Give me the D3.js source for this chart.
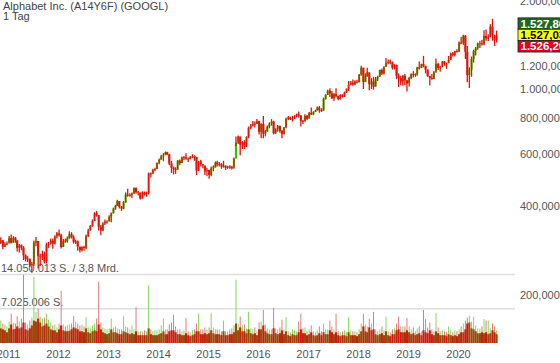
<!DOCTYPE html>
<html>
<head>
<meta charset="utf-8">
<script src="https://cdn.jsdelivr.net/npm/d3@7"></script>
<style>
  body { margin: 0; background: #fff; }
  svg { display: block; font-family: "Liberation Sans", Arial, sans-serif; }
</style>
</head>
<body>
<div id="chart"></div>
<script>
// half-month periods, starting Nov 2010 (a = 1st-15th, b = 16th-end)
const startMonth = new Date(2010, 10, 1);
const firstOpen = 300;

const closes = [
  306, 291, 296, 298,
  311, 300, 312, 306, 288, 294, 289, 272, 264, 265, 252, 254, 300, 304, 270, 270, 275, 259, 296, 298, 305, 298, 315, 323,
  318, 290, 305, 304, 310, 321, 313, 302, 303, 291, 283, 290, 288, 316, 330, 342, 356, 378, 372, 340, 330, 349, 354, 354,
  368, 378, 392, 401, 416, 397, 392, 412, 438, 436, 436, 441, 461, 445, 445, 424, 445, 438, 442, 516, 515, 530, 535, 561,
  575, 591, 595, 609, 600, 558, 540, 535, 530, 571, 560, 585, 586, 580, 577, 587, 590, 588, 528, 567, 555, 549, 525, 531,
  510, 537, 542, 562, 555, 555, 545, 548, 540, 545, 542, 540, 580, 657, 690, 647, 660, 638, 685, 737, 750, 762, 760, 778,
  715, 761, 705, 717, 745, 763, 775, 707, 730, 748, 720, 704, 740, 791, 800, 790, 790, 804, 820, 810, 780, 775, 810, 792,
  830, 820, 835, 845, 865, 848, 845, 925, 955, 988, 965, 930, 960, 945, 925, 955, 940, 974, 1000, 1033, 1050, 1036, 1060, 1053,
  1120, 1182, 1055, 1104, 1140, 1037, 1060, 1018, 1080, 1100, 1160, 1129, 1190, 1227, 1240, 1232, 1180, 1207, 1110, 1090, 1060, 1109, 1070, 1045,
  1090, 1126, 1115, 1126, 1185, 1177, 1215, 1198, 1165, 1106, 1090, 1083, 1145, 1218, 1180, 1190, 1240, 1221, 1220, 1258, 1320, 1304, 1345, 1339,
  1440, 1432, 1518, 1339, 1115, 1162, 1265, 1348, 1375, 1429, 1430, 1418, 1515, 1487, 1505, 1629, 1520, 1466, 1527
];
const highs = [
  313, 305, 301, 303,
  316, 320, 316, 314, 303, 297, 296, 292, 274, 270, 263, 258, 305, 314, 303, 275, 282, 280, 300, 302, 310, 310, 318, 326,
  333, 322, 309, 310, 315, 328, 326, 318, 307, 305, 290, 292, 293, 320, 335, 345, 360, 381, 385, 373, 345, 352, 360, 358,
  372, 380, 395, 404, 420, 410, 400, 416, 445, 458, 442, 445, 462, 462, 450, 440, 449, 448, 448, 520, 520, 535, 540, 562,
  580, 598, 605, 613, 612, 602, 570, 545, 542, 573, 576, 589, 592, 605, 585, 592, 600, 595, 585, 570, 575, 555, 548, 540,
  530, 545, 550, 567, 570, 565, 560, 570, 550, 548, 550, 548, 585, 690, 695, 680, 665, 670, 690, 745, 760, 778, 775, 790,
  780, 765, 810, 725, 752, 770, 790, 780, 735, 755, 752, 725, 742, 800, 810, 805, 810, 815, 825, 838, 815, 785, 820, 815,
  835, 865, 840, 850, 872, 875, 860, 935, 960, 995, 1005, 985, 970, 1006, 950, 960, 960, 980, 1005, 1065, 1065, 1078, 1070, 1075,
  1125, 1200, 1180, 1130, 1180, 1125, 1090, 1100, 1100, 1110, 1165, 1175, 1195, 1275, 1260, 1260, 1240, 1215, 1210, 1130, 1110, 1115, 1125, 1075,
  1100, 1130, 1150, 1130, 1190, 1240, 1220, 1296, 1200, 1165, 1110, 1125, 1150, 1270, 1225, 1200, 1245, 1245, 1230, 1295, 1330, 1335, 1350, 1365,
  1450, 1505, 1530, 1525, 1400, 1185, 1290, 1360, 1390, 1440, 1460, 1470, 1585, 1595, 1535, 1660, 1733, 1530, 1580
];
const lows = [
  297, 285, 290, 294,
  300, 298, 300, 300, 280, 278, 283, 262, 259, 258, 248, 237, 250, 292, 245, 250, 262, 255, 255, 288, 296, 286, 296, 310,
  315, 287, 290, 300, 300, 310, 310, 298, 297, 282, 278, 280, 282, 285, 314, 330, 340, 355, 368, 330, 318, 328, 345, 348,
  355, 352, 377, 388, 400, 392, 385, 390, 410, 430, 430, 426, 440, 440, 434, 421, 424, 434, 430, 438, 500, 515, 525, 533,
  555, 575, 568, 598, 595, 550, 518, 512, 515, 535, 550, 560, 572, 575, 565, 577, 582, 570, 510, 525, 545, 538, 510, 505,
  495, 505, 525, 540, 545, 545, 535, 540, 530, 535, 535, 532, 536, 640, 650, 595, 625, 625, 635, 680, 730, 745, 740, 760,
  700, 680, 680, 690, 715, 735, 750, 700, 705, 715, 710, 680, 700, 735, 785, 785, 775, 790, 800, 800, 745, 760, 775, 785,
  795, 815, 815, 835, 845, 830, 835, 845, 920, 955, 940, 925, 910, 935, 915, 920, 935, 940, 970, 985, 1030, 1025, 1030, 1045,
  1055, 1110, 1000, 1060, 1100, 990, 1000, 995, 1020, 1065, 1100, 1115, 1120, 1190, 1215, 1215, 1165, 1165, 1080, 1015, 1030, 1025, 1030, 980,
  1020, 1080, 1095, 1100, 1110, 1165, 1180, 1185, 1130, 1100, 1027, 1075, 1080, 1135, 1160, 1145, 1185, 1200, 1170, 1230, 1255, 1290, 1290, 1330,
  1340, 1420, 1415, 1265, 1055, 1008, 1100, 1230, 1300, 1360, 1380, 1405, 1410, 1460, 1455, 1500, 1460, 1400, 1440
];

// volume in million shares per half-month: typical day and busiest day
const volBase = [
  3.0, 2.8, 2.6, 2.2,
  3.0, 3.8, 2.8, 2.9, 3.4, 3.0, 3.2, 4.2, 2.8, 2.6, 3.0, 3.6, 4.6, 4.4, 5.0, 4.2, 3.4, 3.6, 4.0, 3.4, 2.8, 2.6, 2.6, 2.2,
  2.8, 3.6, 2.6, 2.4, 2.4, 2.5, 2.8, 3.2, 3.0, 2.8, 2.4, 2.4, 2.2, 3.0, 2.2, 2.0, 2.4, 2.6, 2.4, 3.8, 2.8, 2.2, 2.0, 1.8,
  2.0, 2.8, 2.2, 2.2, 2.0, 1.8, 1.8, 2.4, 2.2, 2.0, 1.8, 2.0, 1.8, 2.4, 1.6, 1.6, 1.6, 1.6, 1.6, 3.0, 1.8, 1.6, 1.6, 1.6,
  1.8, 2.0, 2.4, 1.8, 1.8, 2.4, 2.6, 2.6, 2.2, 1.8, 1.8, 1.6, 1.6, 2.0, 1.6, 1.4, 1.6, 1.8, 2.4, 2.4, 1.8, 1.8, 2.0, 1.8,
  2.0, 2.6, 2.0, 1.8, 1.8, 1.8, 1.6, 2.4, 1.6, 1.6, 1.8, 1.8, 2.2, 4.0, 2.6, 3.2, 2.4, 2.4, 2.0, 2.8, 2.0, 1.8, 2.0, 1.6,
  2.8, 2.8, 3.6, 2.4, 2.0, 1.8, 1.8, 3.0, 2.0, 1.8, 2.0, 2.6, 1.8, 2.4, 1.6, 1.4, 1.8, 1.6, 1.6, 2.2, 2.8, 2.0, 2.0, 1.6,
  1.8, 2.2, 1.6, 1.4, 1.6, 2.0, 1.6, 2.2, 1.8, 1.8, 2.6, 2.2, 1.8, 2.2, 1.6, 1.4, 1.6, 1.6, 1.4, 2.2, 1.6, 1.6, 1.6, 1.4,
  1.8, 2.4, 3.4, 2.4, 2.2, 3.2, 2.6, 2.8, 1.8, 1.6, 1.8, 2.0, 1.6, 2.4, 1.6, 1.4, 1.8, 1.8, 2.6, 2.8, 2.2, 2.2, 2.2, 2.6,
  2.2, 1.8, 2.0, 1.6, 1.8, 2.0, 1.6, 2.6, 2.2, 2.0, 2.6, 1.8, 1.6, 2.4, 2.0, 1.6, 1.6, 1.6, 1.4, 1.8, 1.6, 1.4, 1.6, 1.4,
  1.8, 2.2, 2.2, 2.8, 4.0, 4.2, 3.0, 2.8, 2.4, 2.0, 2.0, 2.2, 2.0, 2.2, 1.8, 2.0, 2.6, 2.2, 1.8
];
const volPeak = [
  4.6, 4.0, 3.8, 3.4,
  4.4, 6.0, 4.2, 4.0, 5.5, 4.4, 5.0, 14.0, 4.2, 3.8, 4.6, 5.2, 13.6, 6.4, 7.0, 5.4, 5.0, 5.2, 6.0, 4.8, 4.2, 3.6, 3.8, 3.2,
  4.0, 10.7, 3.8, 3.4, 3.6, 3.8, 4.0, 5.5, 4.4, 4.0, 3.6, 3.8, 3.4, 5.3, 3.2, 3.0, 3.6, 4.0, 5.0, 12.6, 4.2, 3.2, 3.0, 2.8,
  3.0, 5.0, 3.2, 3.4, 3.0, 2.8, 2.8, 5.5, 3.4, 3.2, 2.8, 3.6, 2.8, 7.4, 2.4, 2.4, 2.4, 2.6, 2.4, 11.8, 2.8, 2.4, 2.6, 2.6,
  2.8, 3.6, 5.0, 2.8, 2.8, 3.8, 4.2, 5.8, 3.4, 2.8, 2.8, 2.4, 2.6, 5.1, 2.4, 2.2, 2.6, 2.8, 4.0, 6.0, 2.8, 2.8, 3.2, 2.8,
  3.2, 6.2, 3.2, 2.8, 2.8, 2.8, 2.4, 4.6, 2.4, 2.4, 2.8, 3.0, 3.6, 13.0, 4.0, 5.4, 3.6, 3.8, 3.0, 6.4, 3.0, 2.8, 3.2, 2.4,
  4.2, 4.4, 6.8, 3.8, 3.0, 2.8, 2.8, 7.2, 3.0, 2.8, 3.2, 4.8, 2.8, 5.3, 2.4, 2.2, 2.8, 2.6, 2.4, 4.4, 6.0, 3.0, 3.2, 2.4,
  2.8, 3.6, 2.4, 2.2, 2.6, 3.4, 2.4, 4.0, 2.8, 2.8, 4.6, 3.4, 2.8, 6.0, 2.4, 2.2, 2.4, 2.6, 2.2, 5.3, 2.6, 2.4, 2.4, 2.2,
  2.8, 4.0, 6.0, 3.8, 3.4, 5.0, 4.0, 6.4, 2.8, 2.4, 2.8, 3.4, 2.6, 5.4, 2.4, 2.2, 2.8, 3.0, 4.0, 5.4, 3.4, 3.4, 3.4, 5.1,
  3.4, 2.8, 3.2, 2.4, 3.0, 3.4, 2.4, 6.8, 4.9, 3.2, 4.2, 2.8, 2.4, 6.2, 3.2, 2.4, 2.6, 2.4, 2.2, 3.4, 2.6, 2.2, 2.6, 2.4,
  2.8, 3.4, 4.0, 4.6, 5.2, 5.6, 4.4, 5.4, 3.6, 3.0, 3.0, 3.4, 4.9, 4.6, 4.6, 3.0, 4.0, 3.4, 2.6
];

const priceTicks = [200, 400, 600, 800, 1000, 1200, 2000];
const years = [2011, 2012, 2013, 2014, 2015, 2016, 2017, 2018, 2019, 2020];
const volTop = 14.050013;
const volLabels = ["14.050.013 S. / 3,8 Mrd.", "7.025.006 S."];
const quote = [
  {value: "1.527,86", fill: "#1d6a1d", text: "#fff"},
  {value: "1.527,03", fill: "#ffff00", text: "#000"},
  {value: "1.526,20", fill: "#e0001b", text: "#fff"}
];
const lastPrice = 1527.03;
const title = ["Alphabet Inc. (A14Y6F) (GOOGL)", "1 Tag"];

const W = 560, H = 363;
const plotRight = 515;
const red = "#e3120b", green = "#3cbc00";

const de = d3.formatLocale({decimal: ",", thousands: ".", grouping: [3], currency: ["", ""]});
const fmt = de.format(",.3f");

const data = closes.map((c, i) => {
  const m = d3.timeMonth.offset(startMonth, Math.floor(i / 2));
  return {
    date: d3.timeDay.offset(m, i % 2 ? 23 : 8),
    open: i ? closes[i - 1] : firstOpen,
    high: highs[i], low: lows[i], close: c,
    vb: volBase[i], vp: volPeak[i]
  };
});

const x = d3.scaleTime()
  .domain([new Date(2012, 0, 1), new Date(2020, 0, 1)])
  .range([58, 458]);
const y = d3.scaleLog().domain([200, 2000]).range([294.5, 0.5]);
const v = d3.scaleLinear().domain([0, volTop]).range([343, 274.5]);

const svg = d3.select("#chart").append("svg")
  .attr("width", W).attr("height", H);

svg.append("rect").attr("width", W).attr("height", H).attr("fill", "#fff");

svg.append("defs").append("clipPath").attr("id", "plot")
  .append("rect").attr("x", 0).attr("y", 0).attr("width", plotRight).attr("height", H);

// title
svg.append("g").selectAll("text").data(title).join("text")
  .attr("x", 3).attr("y", (d, i) => 10 + i * 10)
  .attr("font-size", 11).attr("fill", "#444")
  .text(d => d);

// volume grid lines and labels
svg.append("g").selectAll("line").data([volTop, volTop / 2]).join("line")
  .attr("x1", 0).attr("x2", plotRight)
  .attr("y1", d => v(d)).attr("y2", d => v(d))
  .attr("stroke", "#dedede").attr("stroke-width", 1.5);

svg.append("g").selectAll("text").data(volLabels).join("text")
  .attr("x", 1).attr("y", (d, i) => v(i ? volTop / 2 : volTop) - 3)
  .attr("font-size", 11).attr("fill", "#555")
  .text(d => d);

const band = (x(new Date(2012, 1, 1)) - x(new Date(2012, 0, 1))) / 2;
const up = d => d.close >= d.open;

// volume
const vol = svg.append("g").attr("clip-path", "url(#plot)");
vol.selectAll(".vp").data(data).join("rect")
  .attr("x", d => x(d.date) - 0.5).attr("width", 1)
  .attr("y", d => v(d.vp)).attr("height", d => v(0) - v(d.vp))
  .attr("fill", d => up(d) ? "#86d85a" : "#e77a7a");
vol.selectAll(".vb").data(data).join("rect")
  .attr("x", d => x(d.date) - band / 2).attr("width", band)
  .attr("y", d => v(d.vb)).attr("height", d => v(0) - v(d.vb))
  .attr("fill", d => up(d) ? "#9a4a08" : "#cf1a0c");

// candles: bodies first, red wicks on top so green shows as slivers
const candles = svg.append("g").attr("clip-path", "url(#plot)");
candles.selectAll("rect").data(data).join("rect")
  .attr("x", d => x(d.date) - band / 2).attr("width", band)
  .attr("y", d => y(Math.max(d.open, d.close)))
  .attr("height", d => Math.max(1, Math.abs(y(d.open) - y(d.close))))
  .attr("fill", d => up(d) ? green : red);
candles.selectAll("line").data(data).join("line")
  .attr("x1", d => x(d.date)).attr("x2", d => x(d.date))
  .attr("y1", d => y(d.high)).attr("y2", d => y(d.low))
  .attr("stroke", red).attr("stroke-width", 1.3);

// price axis
const yAxis = svg.append("g")
  .attr("transform", `translate(518,0)`)
  .call(d3.axisRight(y).tickValues(priceTicks).tickFormat(fmt).tickSize(0).tickPadding(2));
yAxis.select(".domain").remove();
yAxis.selectAll("text").attr("font-size", 11).attr("fill", "#555")
  .attr("font-family", "Liberation Sans, Arial, sans-serif");

// time axis
const xAxis = svg.append("g")
  .attr("transform", `translate(0,343)`)
  .call(d3.axisBottom(x).tickValues(years.map(d => new Date(d, 0, 1)))
    .tickFormat(d3.timeFormat("%Y")).tickSize(0).tickPadding(7));
xAxis.select(".domain").remove();
xAxis.selectAll("text").attr("font-size", 11).attr("fill", "#555")
  .attr("font-family", "Liberation Sans, Arial, sans-serif");

// quote boxes
const boxH = 11.4;
const q = svg.append("g").selectAll("g").data(quote).join("g")
  .attr("transform", (d, i) => `translate(518,${y(lastPrice) - boxH * 1.5 + i * boxH})`);
q.append("rect").attr("width", 50).attr("height", boxH)
  .attr("fill", d => d.fill).attr("stroke", "#222").attr("stroke-width", 0.8);
q.append("text").attr("x", 2.5).attr("y", boxH / 2).attr("dy", "0.36em")
  .attr("font-size", 11.5).attr("font-weight", "bold").attr("fill", d => d.text)
  .text(d => d.value);
</script>
</body>
</html>
